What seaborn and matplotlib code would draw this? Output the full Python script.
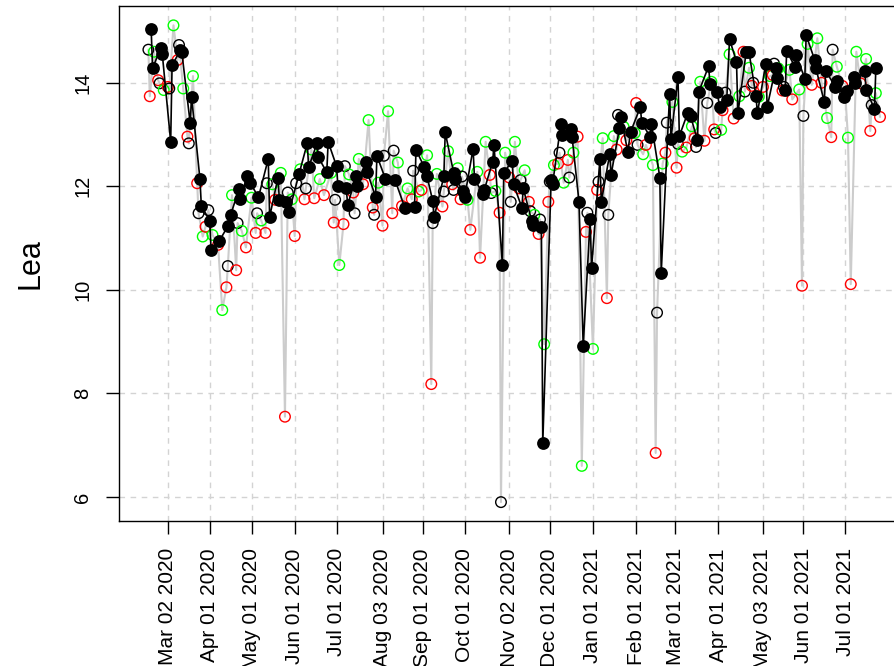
import numpy as np
import pandas as pd
import matplotlib
matplotlib.use("Agg")
import matplotlib.pyplot as plt
import seaborn as sns

# ---------------- data ----------------
base_date = "2020-03-02"

black_day = [-12, -11, -5, -4, 2, 3, 9, 10, 16, 17, 23, 24, 30, 31, 37, 43, 45, 51, 52, 57,
             59, 65, 72, 73, 79, 80, 85, 87, 94, 100, 101, 107, 108, 114, 115, 121, 122, 128, 129, 135,
             136, 142, 143, 149, 150, 156, 163, 170, 177, 178, 184, 186, 190, 191, 198, 199, 205, 206, 212, 213,
             219, 220, 226, 227, 233, 234, 240, 241, 247, 248, 254, 255, 261, 262, 268, 269, 275, 276, 282, 283,
             289, 290, 295, 298, 303, 304, 310, 311, 317, 318, 324, 325, 330, 332, 339, 340, 346, 347, 353, 354,
             360, 361, 366, 367, 373, 375, 380, 381, 388, 389, 394, 396, 401, 403, 408, 409, 415, 417, 422, 423,
             429, 430, 436, 437, 443, 444, 450, 451, 457, 458, 464, 465, 471, 472, 479, 480, 485, 487, 492, 493,
             500, 501, 507, 508]
black_val = [15.03, 14.28, 14.68, 14.55, 12.86, 14.34, 14.63, 14.59, 13.22, 13.72, 12.14, 11.62, 11.34, 10.77, 10.95, 11.23, 11.45, 11.94, 11.75, 12.20,
             12.07, 11.79, 12.53, 11.41, 12.17, 11.74, 11.70, 11.51, 12.23, 12.83, 12.37, 12.83, 12.56, 12.27, 12.86, 12.39, 12.01, 11.96, 11.64, 12.19,
             12.01, 12.47, 12.28, 11.80, 12.59, 12.15, 12.12, 11.59, 11.61, 12.71, 12.37, 12.19, 11.72, 11.40, 12.19, 13.04, 12.26, 12.14, 11.91, 11.80,
             12.73, 12.14, 11.86, 11.93, 12.47, 12.80, 10.49, 12.26, 12.49, 12.04, 11.59, 11.96, 11.34, 11.25, 11.22, 7.04, 12.12, 12.04, 13.20, 13.00,
             13.10, 12.96, 11.70, 8.92, 11.36, 10.42, 12.52, 11.70, 12.62, 12.22, 13.12, 13.34, 12.67, 13.05, 13.53, 13.23, 12.96, 13.20, 12.17, 10.33,
             13.78, 12.91, 14.12, 12.97, 13.42, 13.36, 12.89, 13.83, 14.32, 13.97, 13.83, 13.53, 13.67, 14.84, 14.41, 13.41, 14.60, 14.59, 13.74, 13.41,
             14.37, 13.53, 14.28, 14.10, 13.87, 14.61, 14.31, 14.53, 14.08, 14.92, 14.45, 14.28, 13.63, 14.23, 13.92, 14.03, 13.73, 13.84, 14.12, 13.99,
             14.23, 13.87, 13.49, 14.28]

open_day = [-14, -13, -10, -7, -6, -3, 0, 1, 4, 7, 8, 11, 14, 15, 18, 21, 22, 25, 27, 29,
            32, 36, 39, 42, 43, 46, 49, 50, 53, 56, 60, 63, 64, 67, 70, 71, 75, 77, 81, 84,
            86, 89, 91, 92, 95, 98, 99, 103, 105, 109, 112, 117, 119, 120, 123, 126, 127, 130, 133, 134,
            137, 140, 144, 147, 148, 151, 154, 155, 158, 161, 162, 165, 168, 172, 175, 176, 180, 182, 186, 189,
            190, 193, 197, 198, 201, 204, 205, 208, 210, 211, 215, 217, 222, 224, 228, 231, 232, 235, 238, 239,
            242, 245, 246, 249, 252, 253, 256, 259, 260, 263, 266, 267, 270, 273, 274, 277, 280, 281, 284, 287,
            288, 291, 294, 297, 300, 301, 305, 308, 309, 312, 315, 316, 320, 322, 323, 327, 329, 335, 336, 337,
            341, 343, 348, 350, 351, 355, 357, 358, 362, 365, 366, 369, 372, 376, 378, 379, 382, 385, 387, 390,
            392, 393, 397, 398, 400, 403, 406, 410, 413, 414, 417, 419, 420, 424, 427, 432, 434, 435, 438, 441,
            442, 446, 448, 453, 455, 456, 459, 462, 466, 469, 473, 476, 477, 480, 484, 486, 488, 490, 494, 497,
            501, 504, 505, 508, 511]
open_val = [14.64, 13.74, 14.60, 14.05, 13.99, 13.86, 13.92, 13.89, 15.11, 14.44, 14.73, 13.89, 12.96, 12.83, 14.13, 12.06, 11.48, 11.03, 11.22, 11.54,
            11.06, 10.87, 9.61, 10.05, 10.46, 11.83, 10.38, 11.29, 11.14, 10.82, 11.78, 11.10, 11.48, 11.34, 11.10, 12.06, 12.04, 11.74, 12.26, 7.55,
            11.88, 11.75, 11.04, 12.06, 12.33, 11.75, 11.96, 12.71, 11.77, 12.14, 11.83, 12.26, 11.30, 11.74, 10.48, 11.27, 12.39, 12.23, 11.88, 11.48,
            12.53, 12.04, 13.28, 11.59, 11.45, 12.07, 11.24, 12.59, 13.45, 11.48, 12.69, 12.46, 11.62, 11.96, 11.75, 12.30, 11.90, 11.93, 12.60, 8.18,
            11.29, 12.24, 11.61, 11.90, 12.68, 12.04, 11.93, 12.35, 11.75, 12.19, 11.74, 11.16, 12.28, 10.62, 12.86, 12.22, 11.87, 11.91, 11.49, 5.90,
            12.65, 12.17, 11.70, 12.86, 11.96, 12.12, 12.31, 11.70, 11.52, 11.45, 11.08, 11.36, 8.95, 11.70, 12.09, 12.41, 12.44, 12.65, 12.07, 12.51,
            12.17, 12.65, 12.96, 6.60, 11.12, 11.49, 8.86, 11.93, 12.09, 12.93, 9.84, 11.45, 12.97, 12.71, 13.38, 13.15, 12.89, 13.03, 13.61, 12.80,
            12.62, 12.80, 12.41, 6.85, 9.56, 12.44, 12.65, 13.23, 13.63, 12.36, 12.82, 12.67, 12.75, 13.16, 12.93, 12.76, 14.02, 12.88, 13.61, 14.02,
            13.10, 13.03, 13.09, 13.47, 13.81, 14.55, 13.31, 13.74, 14.60, 13.83, 14.29, 13.94, 14.00, 13.73, 13.92, 14.13, 14.15, 14.37, 14.28, 13.85,
            13.92, 14.25, 13.68, 13.87, 10.08, 13.36, 14.75, 13.96, 14.86, 14.00, 13.32, 12.95, 14.64, 14.31, 13.94, 13.80, 12.94, 10.11, 14.60, 13.99,
            14.46, 13.07, 13.57, 13.80, 13.34]
open_grp = ["k", "r", "g", "r", "k", "g", "r", "k", "g", "r", "k", "g", "r", "k", "g", "r", "k", "g", "r", "k",
            "g", "r", "g", "r", "k", "g", "r", "k", "g", "r", "g", "r", "k", "g", "r", "k", "g", "r", "g", "r",
            "k", "g", "r", "k", "g", "r", "k", "g", "r", "g", "r", "g", "r", "k", "g", "r", "k", "g", "r", "k",
            "g", "r", "g", "r", "k", "g", "r", "k", "g", "r", "k", "g", "r", "g", "r", "k", "g", "r", "g", "r",
            "k", "g", "r", "k", "g", "r", "k", "g", "r", "k", "g", "r", "g", "r", "g", "r", "k", "g", "r", "k",
            "g", "r", "k", "g", "r", "k", "g", "r", "k", "g", "r", "k", "g", "r", "k", "g", "r", "k", "g", "r",
            "k", "g", "r", "g", "r", "k", "g", "r", "k", "g", "r", "k", "g", "r", "k", "g", "r", "g", "r", "k",
            "g", "r", "g", "r", "k", "g", "r", "k", "g", "r", "k", "g", "r", "g", "r", "k", "g", "r", "k", "g",
            "r", "k", "g", "r", "k", "g", "r", "g", "r", "k", "g", "r", "k", "g", "r", "g", "r", "k", "g", "r",
            "k", "g", "r", "g", "r", "k", "g", "r", "g", "r", "g", "r", "k", "g", "r", "k", "g", "r", "g", "r",
            "g", "r", "k", "g", "r"]

tick_dates = ["2020-03-02", "2020-04-01", "2020-05-01", "2020-06-01", "2020-07-01", "2020-08-03",
              "2020-09-01", "2020-10-01", "2020-11-02", "2020-12-01", "2021-01-01", "2021-02-01",
              "2021-03-01", "2021-04-01", "2021-05-03", "2021-06-01", "2021-07-01"]
tick_labels = ["Mar 02 2020", "Apr 01 2020", "May 01 2020", "Jun 01 2020", "Jul 01 2020", "Aug 03 2020",
               "Sep 01 2020", "Oct 01 2020", "Nov 02 2020", "Dec 01 2020", "Jan 01 2021", "Feb 01 2021",
               "Mar 01 2021", "Apr 01 2021", "May 03 2021", "Jun 01 2021", "Jul 01 2021"]
y_ticks = [6, 8, 10, 12, 14]
y_label = "Lea"
palette = {"k": "black", "r": "#FF0000", "g": "#00FF00"}

# ---------------- build tables ----------------
base = pd.Timestamp(base_date)
df_black = pd.DataFrame({"date": base + pd.to_timedelta(black_day, unit="D"), "val": black_val})
df_open = pd.DataFrame({"date": base + pd.to_timedelta(open_day, unit="D"), "val": open_val, "grp": open_grp})

# ---------------- plot ----------------
sns.set_theme(style="white")
plt.rcParams["font.family"] = ["Liberation Sans", "DejaVu Sans"]
plt.rcParams["text.color"] = "black"
plt.rcParams["axes.labelcolor"] = "black"
plt.rcParams["xtick.color"] = "black"
plt.rcParams["ytick.color"] = "black"

fig = plt.figure(figsize=(8.94, 6.66), dpi=100)
ax = fig.add_axes([0.1334, 0.2173, 0.8834, 0.7742])

# grid
for t in tick_dates:
    ax.axvline(pd.Timestamp(t), color="#d3d3d3", lw=1, ls=(0, (4, 4)), zorder=0)
for yv in y_ticks:
    ax.axhline(yv, color="#d3d3d3", lw=1, ls=(0, (4, 4)), zorder=0)

sns.lineplot(data=df_open, x="date", y="val", estimator=None, sort=True,
             color="#cccccc", lw=1.5, ax=ax, zorder=1)
sns.scatterplot(data=df_open, x="date", y="val", hue="grp", palette=palette,
                s=58, ax=ax, legend=False, zorder=2)
coll = ax.collections[-1]
coll.set_edgecolors(coll.get_facecolors())
coll.set_facecolor("none")
coll.set_linewidth(1.0)

sns.lineplot(data=df_black, x="date", y="val", estimator=None, sort=True,
             color="black", lw=1.2, ax=ax, zorder=3)
sns.scatterplot(data=df_black, x="date", y="val", color="black", s=85,
                linewidth=0, ax=ax, zorder=4)

ax.set_xlim(base - pd.Timedelta(days=34.9), base + pd.Timedelta(days=531.8))
ax.set_ylim(5.53, 15.49)

ax.set_xticks([pd.Timestamp(t) for t in tick_dates])
ax.set_xticklabels(tick_labels, rotation=90, fontsize=15, va="top", color="black")
ax.set_yticks(y_ticks)
ax.set_yticklabels([str(v) for v in y_ticks], rotation=90, fontsize=14.5, va="center", color="black")
ax.tick_params(axis="both", direction="out", length=9.4, width=1, color="black",
               bottom=True, left=True)
ax.tick_params(axis="x", pad=10)
ax.tick_params(axis="y", pad=10)

ax.set_xlabel("")
ax.set_ylabel(y_label, fontsize=22, labelpad=20, color="black")
ax.grid(False)
for s in ["left", "bottom", "top", "right"]:
    ax.spines[s].set_color("black")
    ax.spines[s].set_linewidth(1.0)
    ax.spines[s].set_visible(True)

fig.savefig("out.png", dpi=100)
